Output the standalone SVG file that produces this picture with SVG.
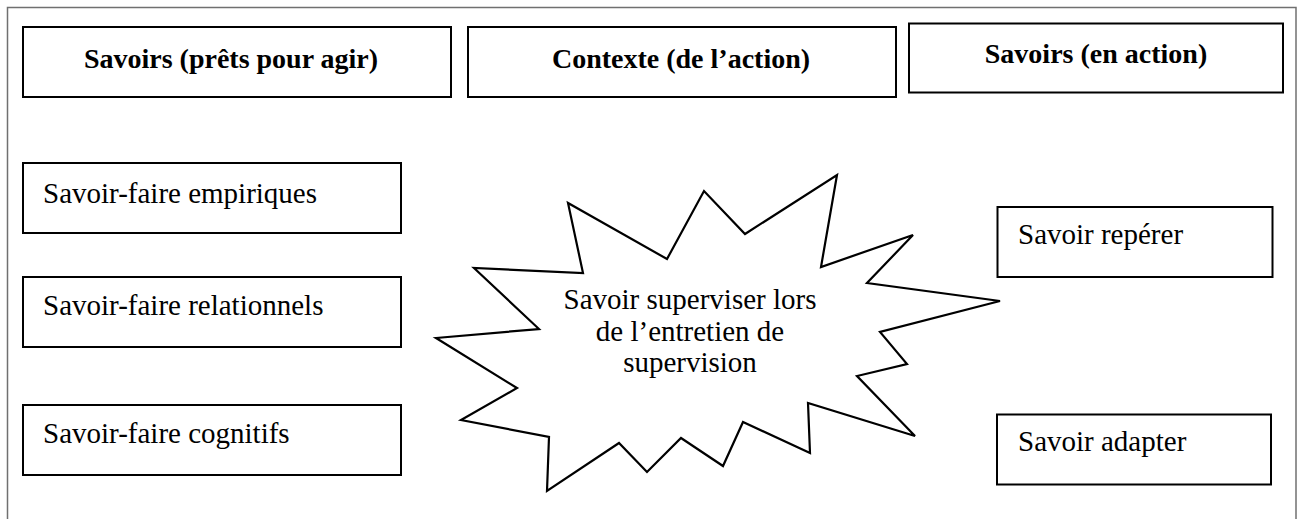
<svg xmlns="http://www.w3.org/2000/svg" width="1298" height="519" viewBox="0 0 1298 519">
<style>
.frame{fill:none;stroke:#707070;stroke-width:1.5}
.box{fill:#fff;stroke:#000;stroke-width:2}
.star{fill:#fff;stroke:#000;stroke-width:2.2;stroke-linejoin:miter}
.h{font-size:28px;font-weight:bold;fill:#000;text-anchor:middle}
.t{font-size:29px;fill:#000}
.c{text-anchor:middle}
</style>
<rect width="1298" height="519" fill="#fff"/>
<path class="frame" d="M7.5,530 V7.5 H1296 V530"/>
<g font-family="Liberation Serif, Tinos, DejaVu Serif, serif">
<g id="header1"><rect class="box" x="23" y="27" width="428" height="70"/><text class="h" x="231" y="68">Savoirs (prêts pour agir)</text></g>
<g id="header2"><rect class="box" x="468" y="27" width="428" height="70"/><text class="h" x="681" y="68">Contexte (de l’action)</text></g>
<g id="header3"><rect class="box" x="909" y="23.5" width="374" height="69"/><text class="h" x="1096" y="63">Savoirs (en action)</text></g>
<g id="empiriques"><rect class="box" x="23" y="163" width="378" height="70"/><text class="t" x="43" y="203">Savoir-faire empiriques</text></g>
<g id="relationnels"><rect class="box" x="23" y="277" width="378" height="70"/><text class="t" x="43" y="315">Savoir-faire relationnels</text></g>
<g id="cognitifs"><rect class="box" x="23" y="405" width="378" height="70"/><text class="t" x="43" y="443">Savoir-faire cognitifs</text></g>
<g id="reperer"><rect class="box" x="997.5" y="207" width="275" height="70"/><text class="t" x="1018" y="244">Savoir repérer</text></g>
<g id="adapter"><rect class="box" x="997" y="414.5" width="274" height="70"/><text class="t" x="1018" y="451">Savoir adapter</text></g>
<g id="superviser">
<polygon class="star" points="436,338 539,329 474,268 583,273 568,203 667,259 704,191 745,234 837,175 821,267 913,235 867,283 1000,301 880,332 907,364 857,376 915,436 808,403 810,453 743,422 723,466 681,438 647,472 619,443 547,491 549,437 461,420 517,388"/>
<text class="t c" x="690" y="309">Savoir superviser lors</text>
<text class="t c" x="690" y="341">de l’entretien de</text>
<text class="t c" x="690" y="372">supervision</text>
</g>
</g>
<g id="connectors"/>
</svg>
